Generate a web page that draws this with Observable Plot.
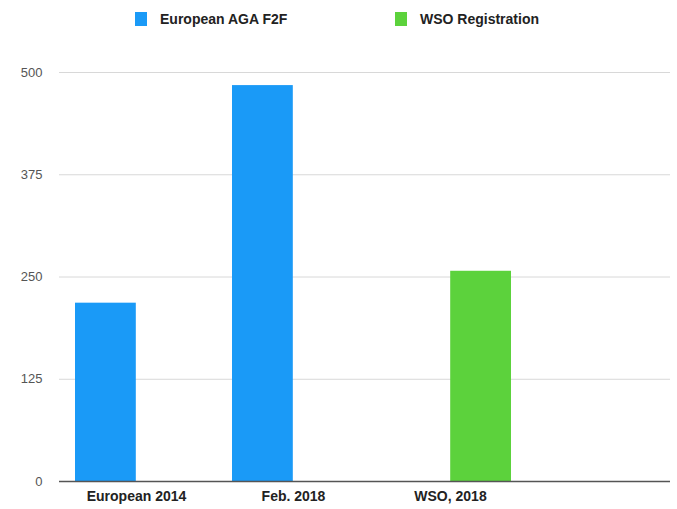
<!DOCTYPE html>
<html>
<head>
<meta charset="utf-8">
<script src="https://cdn.jsdelivr.net/npm/d3@7"></script>
<script src="https://cdn.jsdelivr.net/npm/@observablehq/plot@0.6"></script>
<style>
  html, body { margin: 0; padding: 0; background: #fff; }
  body { width: 677px; height: 509px; overflow: hidden; font-family: "Liberation Sans", Arial, sans-serif; }
  #legend { height: 40px; position: relative; font-size: 14px; font-weight: bold; color: #222; }
  .item { position: absolute; top: 11px; display: flex; align-items: center; }
  .sw { width: 12px; height: 14px; margin-right: 13px; }
</style>
</head>
<body>
<div id="legend"></div>
<div id="chart"></div>
<script>
const categories = ["European 2014", "Feb. 2018", "WSO, 2018"];
const seriesNames = ["European AGA F2F", "WSO Registration"];
const seriesColors = ["#1a9af7", "#5cd23c"];
const agaValues = [218, 484, null];
const wsoValues = [null, null, 257];
const yTicks = [0, 125, 250, 375, 500];

const data = [];
categories.forEach((c, i) => {
  if (agaValues[i] != null) data.push({category: c, series: seriesNames[0], value: agaValues[i]});
  if (wsoValues[i] != null) data.push({category: c, series: seriesNames[1], value: wsoValues[i]});
});

// legend
const legend = document.getElementById("legend");
const legendX = [135, 395];
seriesNames.forEach((s, i) => {
  const d = document.createElement("div");
  d.className = "item";
  d.style.left = legendX[i] + "px";
  d.innerHTML = `<div class="sw" style="background:${seriesColors[i]}"></div><span>${s}</span>`;
  legend.appendChild(d);
});

const half = 61.2;
const chart = Plot.plot({
  width: 677,
  height: 469,
  marginTop: 32,
  marginBottom: 28,
  marginLeft: 59,
  marginRight: 7,
  style: {fontFamily: "Liberation Sans, Arial, sans-serif", background: "#fff"},
  x: {domain: categories, range: [59, 527], paddingInner: 0.22, paddingOuter: 0.1, label: null},
  y: {domain: [0, 500], label: null},
  color: {domain: seriesNames, range: seriesColors},
  marks: [
    Plot.ruleY(yTicks.slice(1), {stroke: "#d8d8d8", strokeWidth: 1}),
    Plot.barY(data.filter(d => d.series === seriesNames[0]), {x: "category", y: "value", fill: "series", insetRight: half}),
    Plot.barY(data.filter(d => d.series === seriesNames[1]), {x: "category", y: "value", fill: "series", insetLeft: half}),
    Plot.ruleY([0], {stroke: "#555", strokeWidth: 1.5}),
    Plot.axisY({ticks: yTicks, tickSize: 0, tickPadding: 17, fontSize: 13, fill: "#555", label: null}),
    Plot.axisX({tickSize: 0, tickPadding: 10, fontSize: 14, fontWeight: "bold", fill: "#222", label: null})
  ]
});
document.getElementById("chart").appendChild(chart);
</script>
</body>
</html>
